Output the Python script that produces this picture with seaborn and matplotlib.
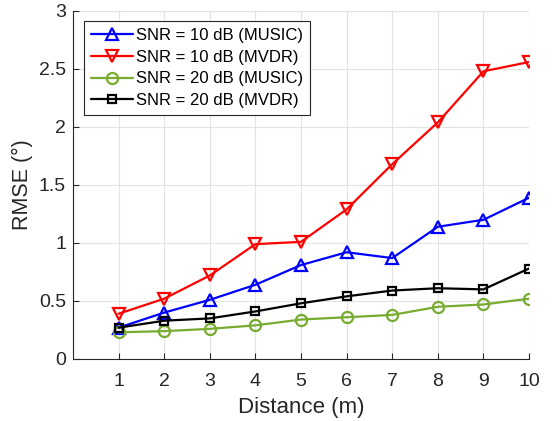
import matplotlib
matplotlib.use("Agg")
import matplotlib.pyplot as plt
import seaborn as sns
import pandas as pd
from matplotlib.ticker import FormatStrFormatter

distance = [1, 2, 3, 4, 5, 6, 7, 8, 9, 10]
music_10db = [0.27, 0.40, 0.51, 0.64, 0.81, 0.92, 0.87, 1.14, 1.20, 1.39]
mvdr_10db = [0.39, 0.52, 0.72, 0.99, 1.01, 1.29, 1.68, 2.04, 2.48, 2.56]
music_20db = [0.23, 0.24, 0.26, 0.29, 0.34, 0.36, 0.38, 0.45, 0.47, 0.52]
mvdr_20db = [0.27, 0.33, 0.35, 0.41, 0.48, 0.54, 0.59, 0.61, 0.60, 0.78]

series_labels = ["SNR = 10 dB (MUSIC)", "SNR = 10 dB (MVDR)",
                 "SNR = 20 dB (MUSIC)", "SNR = 20 dB (MVDR)"]
series_values = [music_10db, mvdr_10db, music_20db, mvdr_20db]
colors = ["#0000FF", "#FF0000", "#77AC30", "#000000"]
markers = ["^", "v", "o", "s"]
marker_sizes = [8, 8, 8, 6]

sns.set_theme(style="white")
plt.rcParams["font.family"] = ["Liberation Sans", "DejaVu Sans"]
text_color = "#262626"

fig = plt.figure(figsize=(5.54, 4.21), dpi=100)
ax = fig.add_axes([0.1318, 0.1473, 0.955 - 0.1318, 0.9739 - 0.1473])

for label, vals, c, m, ms in zip(series_labels, series_values, colors, markers, marker_sizes):
    df = pd.DataFrame({"Distance": distance, "RMSE": vals})
    sns.lineplot(data=df, x="Distance", y="RMSE", ax=ax, color=c, marker=m,
                 markersize=ms, markerfacecolor="none", markeredgecolor=c,
                 markeredgewidth=1.6, linewidth=1.6, label=label)

ax.set_xlim(0, 10)
ax.set_ylim(0, 3)
ax.set_xticks(distance)
ax.set_yticks([0, 0.5, 1, 1.5, 2, 2.5, 3])
ax.yaxis.set_major_formatter(FormatStrFormatter("%g"))
ax.grid(True, color="#e3e3e3", linewidth=0.8)
ax.set_axisbelow(True)

for side in ["top", "right"]:
    ax.spines[side].set_visible(False)
for side in ["left", "bottom"]:
    ax.spines[side].set_color(text_color)
    ax.spines[side].set_linewidth(0.8)

ax.tick_params(axis="both", direction="in", length=4, width=0.8,
               colors=text_color, labelsize=14, left=True, bottom=True)
ax.tick_params(axis="x", pad=10)
ax.tick_params(axis="y", pad=5)
ax.set_xlabel("Distance (m)", fontsize=16, color=text_color, labelpad=5)
ax.set_ylabel("RMSE (°)", fontsize=15.5, color=text_color, labelpad=4)

leg = ax.legend(loc="upper left", bbox_to_anchor=(0.025, 0.97), fontsize=12,
                frameon=True, fancybox=False, framealpha=1, edgecolor=text_color,
                handlelength=2.5, borderpad=0.4, labelspacing=0.4,
                handletextpad=0.2, borderaxespad=0)
leg.get_frame().set_linewidth(0.8)
for t in leg.get_texts():
    t.set_color("#000000")

fig.savefig("out.png", dpi=100)
